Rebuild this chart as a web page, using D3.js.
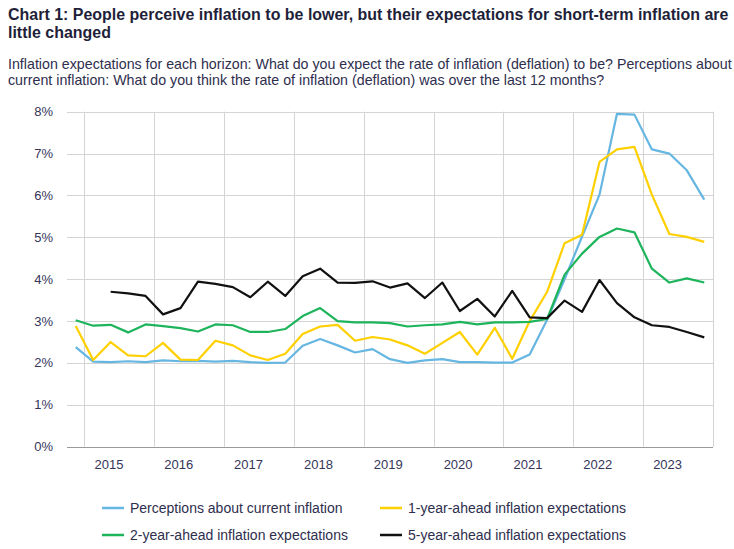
<!DOCTYPE html>
<html lang="en">
<head>
    <meta charset="utf-8">
    <title>Chart 1: Inflation perceptions and expectations</title>
    <style>
        body {
            margin: 0;
            padding: 0;
            background: #fff;
            font-family: "Liberation Sans", Arial, sans-serif;
        }
        .title {
            font-weight: bold;
            font-size: 17px;
            fill: #1f1f3a;
        }
        .subtitle {
            font-size: 14px;
            fill: #2e2e4e;
        }
        .tick-label {
            font-size: 13px;
            fill: #35355a;
        }
        .legend-label {
            font-size: 14px;
            fill: #2e2e4e;
        }
    </style>
</head>
<body>

<div id="chart"></div>

<script src="https://d3js.org/d3.v7.min.js"></script>

<script>
  // Quarters 2014Q4 .. 2023Q4
  const quarters = [
    "2014Q4",
    "2015Q1", "2015Q2", "2015Q3", "2015Q4",
    "2016Q1", "2016Q2", "2016Q3", "2016Q4",
    "2017Q1", "2017Q2", "2017Q3", "2017Q4",
    "2018Q1", "2018Q2", "2018Q3", "2018Q4",
    "2019Q1", "2019Q2", "2019Q3", "2019Q4",
    "2020Q1", "2020Q2", "2020Q3", "2020Q4",
    "2021Q1", "2021Q2", "2021Q3", "2021Q4",
    "2022Q1", "2022Q2", "2022Q3", "2022Q4",
    "2023Q1", "2023Q2", "2023Q3", "2023Q4"
  ];

  const years = [2015, 2016, 2017, 2018, 2019, 2020, 2021, 2022, 2023];
  const yTicks = [0, 1, 2, 3, 4, 5, 6, 7, 8];

  // Values in percent
  const perceptions = [
    2.38, 2.03, 2.02, 2.04, 2.02, 2.06, 2.04, 2.05, 2.03, 2.05, 2.02, 2.00, 2.01,
    2.41, 2.57, 2.42, 2.25, 2.33, 2.09, 2.00, 2.06, 2.09, 2.02, 2.02, 2.01, 2.01,
    2.20, 3.03, 4.00, 5.02, 6.02, 7.95, 7.93, 7.10, 7.00, 6.60, 5.90
  ];
  const oneYear = [
    2.88, 2.07, 2.50, 2.18, 2.16, 2.48, 2.08, 2.07, 2.53, 2.42, 2.18, 2.07, 2.22,
    2.69, 2.87, 2.91, 2.53, 2.62, 2.56, 2.42, 2.22, 2.48, 2.74, 2.20, 2.84, 2.10,
    3.00, 3.70, 4.86, 5.06, 6.80, 7.10, 7.16, 6.02, 5.08, 5.01, 4.89
  ];
  const twoYear = [
    3.02, 2.89, 2.91, 2.73, 2.92, 2.88, 2.83, 2.75, 2.92, 2.90, 2.74, 2.74, 2.81,
    3.12, 3.31, 3.00, 2.97, 2.97, 2.95, 2.87, 2.90, 2.92, 2.98, 2.92, 2.97, 2.97,
    2.98, 3.05, 4.11, 4.61, 5.01, 5.21, 5.12, 4.25, 3.92, 4.02, 3.92
  ];
  const fiveYear = [
    null, null, 3.70, 3.66, 3.60, 3.16, 3.31, 3.94, 3.89, 3.81, 3.57, 3.94, 3.60,
    4.07, 4.25, 3.92, 3.91, 3.95, 3.80, 3.90, 3.55, 3.92, 3.24, 3.53, 3.11, 3.72,
    3.09, 3.07, 3.49, 3.22, 3.98, 3.43, 3.09, 2.90, 2.86, 2.74, 2.61
  ];

  const seriesNames = [
    "Perceptions about current inflation",
    "1-year-ahead inflation expectations",
    "2-year-ahead inflation expectations",
    "5-year-ahead inflation expectations"
  ];
  const seriesColors = ["#66b6e2", "#ffd000", "#1db45c", "#111111"];
  const seriesValues = [perceptions, oneYear, twoYear, fiveYear];

  const width = 734;
  const height = 549;
  const plot = { left: 67, right: 713, top: 111.7, bottom: 446.7 };

  const svg = d3.select("#chart")
    .append("svg")
    .attr("width", width)
    .attr("height", height);

  // Title: squeezed horizontally so the first line ends at x = 729
  const titleLines = [
    "Chart 1: People perceive inflation to be lower, but their expectations for short-term inflation are",
    "little changed"
  ];
  const titleG = svg.append("g");
  const t1 = titleG.append("text").attr("class", "title")
    .attr("x", 0).attr("y", 20)
    .text(titleLines[0]);
  titleG.append("text").attr("class", "title")
    .attr("x", 0).attr("y", 38)
    .text(titleLines[1]);
  const squeeze = 721 / t1.node().getComputedTextLength();
  titleG.attr("transform", `translate(8,0) scale(${squeeze},1)`);

  // Subtitle, fitted so the first line ends at x = 732
  const subLines = [
    "Inflation expectations for each horizon: What do you expect the rate of inflation (deflation) to be? Perceptions about",
    "current inflation: What do you think the rate of inflation (deflation) was over the last 12 months?"
  ];
  const subG = svg.append("g");
  const s1 = subG.append("text").attr("class", "subtitle")
    .attr("x", 0).attr("y", 69)
    .text(subLines[0]);
  subG.append("text").attr("class", "subtitle")
    .attr("x", 0).attr("y", 85)
    .text(subLines[1]);
  const subSqueeze = 724 / s1.node().getComputedTextLength();
  subG.attr("transform", `translate(8,0) scale(${subSqueeze},1)`);

  // Scales
  const x = d3.scaleBand()
    .domain(quarters)
    .range([plot.left, plot.right])
    .padding(0);

  const y = d3.scaleLinear()
    .domain([0, 8])
    .range([plot.bottom, plot.top]);

  const cx = q => x(q) + x.bandwidth() / 2;

  // Horizontal grid
  svg.append("g")
    .selectAll("line")
    .data(yTicks.filter(d => d > 0))
    .enter()
    .append("line")
    .attr("x1", plot.left)
    .attr("x2", plot.right)
    .attr("y1", d => Math.round(y(d)) + 0.5)
    .attr("y2", d => Math.round(y(d)) + 0.5)
    .attr("stroke", "#d4d4d4")
    .attr("stroke-width", 1);

  // Vertical grid at start of each year, plus right edge
  const yearEdges = years.map(yr => x(yr + "Q1")).concat([plot.right]);
  svg.append("g")
    .selectAll("line")
    .data(yearEdges)
    .enter()
    .append("line")
    .attr("x1", d => Math.round(d) + 0.5)
    .attr("x2", d => Math.round(d) + 0.5)
    .attr("y1", plot.top)
    .attr("y2", plot.bottom)
    .attr("stroke", "#d4d4d4")
    .attr("stroke-width", 1);

  // Baseline
  svg.append("line")
    .attr("x1", plot.left)
    .attr("x2", plot.right)
    .attr("y1", Math.round(y(0)) + 0.5)
    .attr("y2", Math.round(y(0)) + 0.5)
    .attr("stroke", "#9a9a9a")
    .attr("stroke-width", 1);

  // Y tick labels
  svg.append("g")
    .selectAll("text")
    .data(yTicks)
    .enter()
    .append("text")
    .attr("class", "tick-label")
    .attr("x", 53)
    .attr("y", d => y(d) + 4.5)
    .attr("text-anchor", "end")
    .text(d => d + "%");

  // X year labels
  svg.append("g")
    .selectAll("text")
    .data(years)
    .enter()
    .append("text")
    .attr("class", "tick-label")
    .attr("x", d => x(d + "Q2") + x.bandwidth() * 0.4)
    .attr("y", 469)
    .attr("text-anchor", "middle")
    .text(d => d);

  // Lines
  const line = d3.line()
    .defined(d => d.v !== null)
    .x(d => cx(d.q))
    .y(d => y(d.v));

  seriesValues.forEach((vals, i) => {
    const pts = quarters.map((q, j) => ({ q: q, v: vals[j] }));
    svg.append("path")
      .datum(pts)
      .attr("d", line)
      .attr("fill", "none")
      .attr("stroke", seriesColors[i])
      .attr("stroke-width", 2.2)
      .attr("stroke-linejoin", "round");
  });

  // Legend
  const legendPos = [
    { x: 102, y: 508 },
    { x: 380, y: 508 },
    { x: 102, y: 535 },
    { x: 380, y: 535 }
  ];
  const legend = svg.append("g")
    .selectAll("g")
    .data(seriesNames)
    .enter()
    .append("g")
    .attr("transform", (d, i) => `translate(${legendPos[i].x},${legendPos[i].y})`);

  legend.append("line")
    .attr("x1", 0).attr("x2", 22)
    .attr("y1", 0).attr("y2", 0)
    .attr("stroke", (d, i) => seriesColors[i])
    .attr("stroke-width", 2.5);

  legend.append("text")
    .attr("class", "legend-label")
    .attr("x", 28)
    .attr("y", 5)
    .text(d => d);
</script>

</body>
</html>
